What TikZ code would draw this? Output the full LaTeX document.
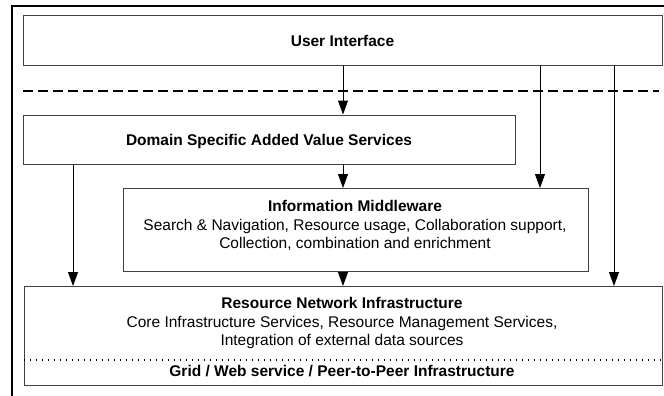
\documentclass[tikz,border=0pt]{standalone}
\usepackage{fontspec}
\setmainfont{Liberation Sans}
\usetikzlibrary{arrows.meta}
\tikzset{
  layer/.style={draw=black!75, line width=1pt, anchor=north west, inner sep=0pt},
  title/.style={font=\fontsize{15.5}{18}\selectfont\bfseries, anchor=base, inner sep=0pt},
  body/.style={font=\fontsize{15.5}{18}\selectfont, anchor=base, inner sep=0pt},
  flow/.style={line width=1pt, -{Triangle[length=14pt, width=10pt]}},
  frame/.style={line width=2.2pt},
  separator/.style={line width=2.4pt, dash pattern=on 10pt off 5pt},
  divider/.style={line width=1.8pt, dash pattern=on 1.8pt off 4.2pt}
}
\begin{document}
\begin{tikzpicture}[x=1pt, y=-1pt]
\useasboundingbox (0,0) rectangle (664,396);

% outer frame (open to the right and bottom)
\coordinate (fa) at (12,396);
\coordinate (fb) at (12,6);
\coordinate (fc) at (664,6);
\draw[frame] (fa) -- (fb) -- (fc);

% layer boxes
\node[layer, minimum width=639pt, minimum height=49.5pt] (ui)  at (23,15.5) {};
\node[layer, minimum width=492pt, minimum height=49.5pt] (dsv) at (23,114.5) {};
\node[layer, minimum width=465pt, minimum height=83pt]   (im)  at (123,188) {};
\node[layer, minimum width=638pt, minimum height=99pt]   (rni) at (23.5,286) {};

% dashed separator below the user interface
\coordinate (sa) at (23,91);
\coordinate (sb) at (659,91);
\draw[separator] (sa) -- (sb);

% dotted divider inside the resource network box
\coordinate (da) at (23.5,360);
\draw[divider] (da) -- (da -| rni.east);

% texts
\node[title] (tui)  at (342.5,46.5) {User Interface};
\node[title] (tdsv) at (269,145) {Domain Specific Added Value Services};
\node[title] (tim)  at (355,211) {Information Middleware};
\node[body]  (im1)  at (355,230) {Search \& Navigation, Resource usage, Collaboration support,};
\node[body]  (im2)  at (355,248) {Collection, combination and enrichment};
\node[title] (trni) at (342,308) {Resource Network Infrastructure};
\node[body]  (rn1)  at (342,327) {Core Infrastructure Services, Resource Management Services,};
\node[body]  (rn2)  at (342,345) {Integration of external data sources};
\node[title] (tgr)  at (342,376) {Grid / Web service / Peer-to-Peer Infrastructure};

% connector columns
\coordinate (xa) at (73,0);
\coordinate (xb) at (343,0);
\coordinate (xc) at (540,0);
\coordinate (xd) at (614,0);

\draw[flow] (ui.south -| xb)  -- (dsv.north -| xb);
\draw[flow] (dsv.south -| xb) -- (im.north -| xb);
\draw[flow] (im.south -| xb)  -- (rni.north -| xb);
\draw[flow] (dsv.south -| xa) -- (rni.north -| xa);
\draw[flow] (ui.south -| xc)  -- (im.north -| xc);
\draw[flow] (ui.south -| xd)  -- (rni.north -| xd);
\end{tikzpicture}
\end{document}
